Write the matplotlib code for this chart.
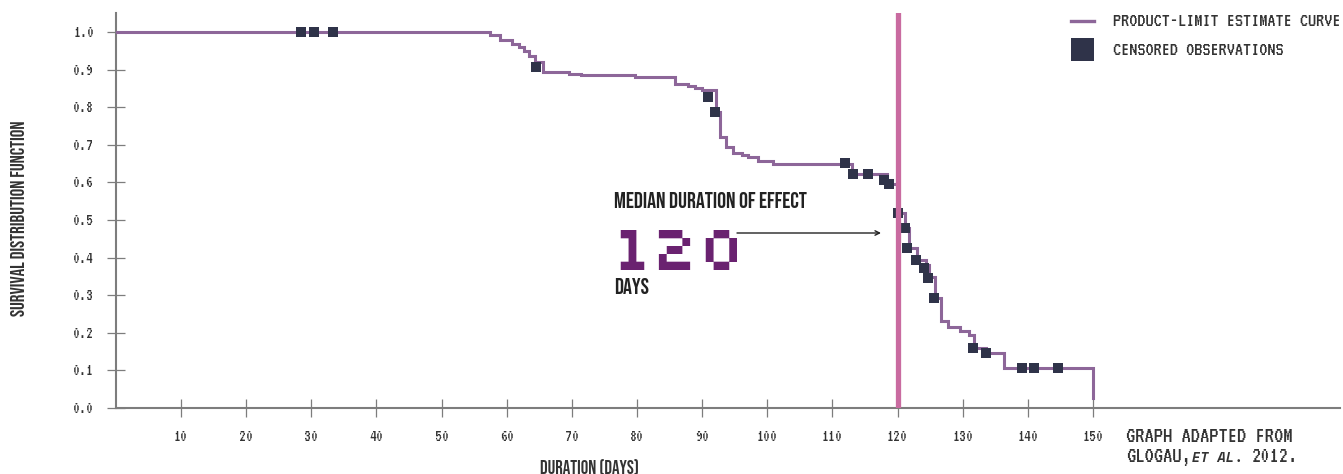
import matplotlib
matplotlib.use("Agg")
import matplotlib.pyplot as plt
from matplotlib.lines import Line2D
from matplotlib.patches import Rectangle

# ---- data ----
step_days = [0, 57.5, 58.9, 60.8, 61.9, 62.7, 63.4, 64.3, 65.5, 69.5, 71.4, 79.7,
             85.9, 87.9, 88.9, 89.9, 92.1, 92.8, 93.7, 94.8, 96.1, 97.1, 98.6,
             100.8, 113.0, 118.3, 119.1, 120.0, 121.1, 121.8, 123.0, 124.4,
             124.9, 125.7, 126.7, 127.8, 129.6, 130.9, 131.8, 133.5, 136.3, 150.0]
step_surv = [1.0, 0.992, 0.979, 0.970, 0.962, 0.950, 0.938, 0.922, 0.895, 0.889,
             0.886, 0.882, 0.861, 0.857, 0.852, 0.845, 0.789, 0.722, 0.695, 0.678,
             0.673, 0.669, 0.657, 0.650, 0.623, 0.607, 0.595, 0.518, 0.478, 0.425,
             0.393, 0.380, 0.349, 0.291, 0.232, 0.216, 0.204, 0.194, 0.158, 0.145,
             0.105, 0.025]

censor_days = [28.4, 30.4, 33.4, 64.5, 90.9, 91.9, 112.0, 113.2, 115.5, 117.9,
               118.7, 120.1, 121.2, 121.4, 122.8, 124.1, 124.7, 125.6, 131.6,
               133.5, 139.1, 141.0, 144.7]
censor_surv = [1.0, 1.0, 1.0, 0.908, 0.828, 0.789, 0.653, 0.623, 0.623, 0.607,
               0.595, 0.518, 0.478, 0.425, 0.393, 0.371, 0.345, 0.293, 0.158,
               0.145, 0.105, 0.105, 0.105]

median_day = 120
x_ticks = [10, 20, 30, 40, 50, 60, 70, 80, 90, 100, 110, 120, 130, 140, 150]
y_ticks = [0.0, 0.1, 0.2, 0.3, 0.4, 0.5, 0.6, 0.7, 0.8, 0.9, 1.0]

CURVE = "#8d6699"
CENS = "#2f3349"
PINK = "#c96ba0"
GRAY = "#7d7d7d"
TXT = "#333333"
PURPLE = "#6a2270"
COND = ["Bebas Neue", "DejaVu Sans"]
PIX = ["VT323", "DejaVu Sans Mono"]

W, H = 1343, 474
fig = plt.figure(figsize=(W / 100, H / 100), dpi=100)
x0, x1 = 115.9, 1340
y0, y1 = 407.7, 13.3
ax = fig.add_axes([x0 / W, 1 - y0 / H, (x1 - x0) / W, (y0 - y1) / H])
px_per_day = 6.514
px_per_unit = 375.4
ax.set_xlim(0, (x1 - x0) / px_per_day)
ax.set_ylim(0, (y0 - y1) / px_per_unit)

ax.plot(step_days, step_surv, drawstyle="steps-post", color=CURVE, lw=2.2,
        solid_joinstyle="miter", zorder=3)
ax.plot(censor_days, censor_surv, ls="none", marker="s", ms=7.4, color=CENS,
        markeredgewidth=0, zorder=4)
ax.axvline(median_day, color=PINK, lw=3.8, zorder=5)

for s in ["top", "right"]:
    ax.spines[s].set_visible(False)
for s in ["left", "bottom"]:
    ax.spines[s].set_color(GRAY)
    ax.spines[s].set_linewidth(1.5)

ax.set_xticks(x_ticks)
ax.set_yticks(y_ticks)
ax.set_yticklabels([f"{v:.1f}" for v in y_ticks])
ax.tick_params(direction="inout", length=13, width=0.9, color=GRAY,
               labelcolor=TXT, labelsize=12.5)
ax.tick_params(axis="y", pad=9)
ax.tick_params(axis="x", pad=10)
for lab in ax.get_xticklabels() + ax.get_yticklabels():
    lab.set_family(PIX)

fig.text(18 / W, 1 - 218 / H, "SURVIVAL DISTRIBUTION FUNCTION", rotation=90,
         ha="center", va="center", fontsize=13.8, color=TXT, family=COND)
fig.text(589 / W, 1 - 467 / H, "DURATION (DAYS)", ha="center", va="center",
         fontsize=13.5, color=TXT, family=COND)

# annotation
def dx(px):
    return (px - x0) / px_per_day

def dy(py):
    return (y0 - py) / px_per_unit

ax.text(dx(614), dy(208), "MEDIAN DURATION OF EFFECT", ha="left", va="baseline",
        fontsize=16, color="#222222", family=COND)
ax.text(dx(612), dy(270), "120", ha="left", va="baseline", fontsize=45,
        color=PURPLE, family=["Silkscreen", "DejaVu Sans Mono"])
ax.text(dx(614), dy(294), "DAYS", ha="left", va="baseline", fontsize=16,
        color="#222222", family=COND)
ax.annotate("", xy=(dx(881), dy(233)), xytext=(dx(737), dy(233)),
            arrowprops=dict(arrowstyle="->", color="#222222", lw=1.0,
                            shrinkA=0, shrinkB=0, mutation_scale=8))

# legend
fig.add_artist(Line2D([1071 / W, 1094 / W], [1 - 20.5 / H, 1 - 20.5 / H],
                      color=CURVE, lw=2.4, transform=fig.transFigure))
fig.add_artist(Rectangle((1071 / W, 1 - 61 / H), 23 / W, 23 / H, color=CENS,
                         transform=fig.transFigure, lw=0))
fig.text(1113 / W, 1 - 22 / H, "PRODUCT-LIMIT ESTIMATE CURVE", ha="left",
         va="center", fontsize=14.7, color=TXT, family=PIX)
fig.text(1113 / W, 1 - 51 / H, "CENSORED OBSERVATIONS", ha="left",
         va="center", fontsize=14.7, color=TXT, family=PIX)

# source
fig.text(1126 / W, 1 - 442 / H, "GRAPH ADAPTED FROM", ha="left", va="baseline",
         fontsize=16.7, color=TXT, family=PIX)
fig.text(1126 / W, 1 - 462 / H, "GLOGAU,", ha="left", va="baseline",
         fontsize=16.7, color=TXT, family=PIX)
fig.text(1192 / W, 1 - 462 / H, "ET AL.", ha="left", va="baseline",
         fontsize=10, color=TXT, family=["Space Mono", "DejaVu Sans Mono"],
         style="italic", fontweight="bold")
fig.text(1252 / W, 1 - 462 / H, "2012.", ha="left", va="baseline",
         fontsize=16.7, color=TXT, family=PIX)

fig.savefig("out.png", dpi=100)
